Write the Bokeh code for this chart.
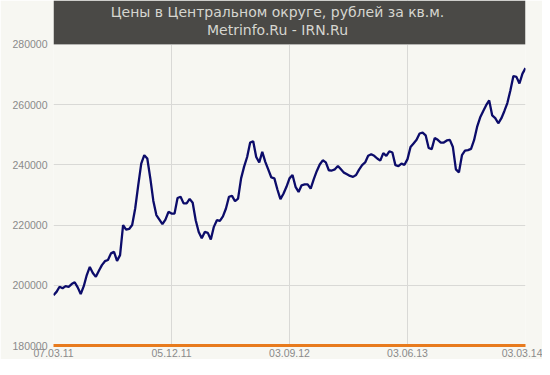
import pandas as pd
from bokeh.plotting import figure
from bokeh.models import (Range1d, FixedTicker, DatetimeTickFormatter, BoxAnnotation,
                          Label, NumeralTickFormatter)
from bokeh.embed import file_html
from bokeh.resources import INLINE

# ---------------- data ----------------
title_lines = ["Цены в Центральном округе, рублей за кв.м.", "Metrinfo.Ru - IRN.Ru"]
start_date = "2011-03-07"          # weekly observations
prices = [
    196700, 197800, 199500, 199000, 199700, 199500, 200400, 201000, 199300, 197100,
    199700, 203400, 206100, 204100, 202800, 204800, 206700, 208000, 208400, 210600,
    211100, 208100, 210000, 220000, 218500, 218700, 220000, 225500, 233200, 240400,
    243200, 242100, 235500, 228000, 223300, 221800, 220300, 221800, 224400, 223800,
    223800, 229000, 229400, 227200, 227200, 228700, 227400, 221600, 217700, 215600,
    217700, 217400, 215200, 219400, 221600, 221400, 222900, 225500, 229400, 229700,
    227900, 228800, 235500, 239400, 242600, 247400, 247800, 242600, 240800, 244300,
    241000, 238400, 235800, 235500, 231800, 228600, 230400, 232700, 235500, 236600,
    232700, 231000, 233200, 233500, 233500, 232100, 235200, 237900, 240100, 241500,
    240800, 238200, 238100, 238500, 239600, 238500, 237400, 236900, 236300, 236000,
    236600, 238400, 239900, 240800, 243000, 243500, 243000, 242100, 241400, 243900,
    243000, 244500, 244100, 239900, 239600, 240400, 240000, 241900, 245900, 247100,
    248300, 250400, 250700, 249800, 245600, 245200, 248900, 248300, 247400, 247400,
    248100, 248300, 245900, 238500, 237500, 243200, 244700, 244900, 245300, 248200,
    252600, 255700, 257800, 259800, 261400, 256400, 255500, 253800, 255400, 257800,
    260500, 264700, 269500, 269200, 267000, 270300, 272100,
]
y_ticks = [180000, 200000, 220000, 240000, 260000, 280000]
x_tick_dates = ["2011-03-07", "2011-12-05", "2012-09-03", "2013-06-03", "2014-03-03"]

dates = pd.date_range(start_date, periods=len(prices), freq="7D")
x_ticks_ms = [int(pd.Timestamp(d).value // 10**6) for d in x_tick_dates]

# ---------------- style ----------------
BG = "#f7f7f2"
BOX = "#4a4946"
NAVY = "#0c0c6a"
ORANGE = "#e87b1e"
GRID = "#d9d9d6"
LABEL = "#8a8a8a"

W, H = 542, 359
left, right, top, bottom = 53, 17, 0, 13
frame_w = W - left - right
frame_h = H - top - bottom
y0, ytop = y_ticks[0], y_ticks[-1]
box_px = 44                                   # height of dark title band
y_end = (ytop - y0 * box_px / frame_h) / (1 - box_px / frame_h)
per_px = (y_end - y0) / frame_h
x_per_px = (x_ticks_ms[-1] - x_ticks_ms[0]) / frame_w

p = figure(width=W, height=H, x_axis_type="datetime", output_backend="svg",
           toolbar_location=None,
           x_range=Range1d(dates[0], dates[-1]), y_range=Range1d(y0, y_end),
           min_border_left=left, min_border_right=right,
           min_border_top=top, min_border_bottom=bottom,
           background_fill_color=BG, border_fill_color=BG, outline_line_color=None)

p.line(dates, prices, line_color=NAVY, line_width=2.3)

# axes
p.xaxis.ticker = FixedTicker(ticks=x_ticks_ms)
fmt = "%d.%m.%y"
p.xaxis.formatter = DatetimeTickFormatter(milliseconds=fmt, seconds=fmt, minsec=fmt, minutes=fmt,
                                          hourmin=fmt, hours=fmt, days=fmt, months=fmt, years=fmt)
p.yaxis.ticker = FixedTicker(ticks=y_ticks)
p.yaxis.formatter = NumeralTickFormatter(format="0")

for ax in (p.xaxis[0], p.yaxis[0]):
    ax.major_tick_line_color = None
    ax.minor_tick_line_color = None
    ax.major_tick_out = 0
    ax.major_tick_in = 0
    ax.major_label_text_font = "Liberation Sans"
    ax.major_label_text_font_size = "10.5px"
    ax.major_label_text_color = LABEL
p.xaxis.axis_line_color = ORANGE
p.xaxis.axis_line_width = 3
p.xaxis.major_label_standoff = 3
p.yaxis.axis_line_color = None
p.yaxis.major_label_standoff = 6

p.xgrid.grid_line_color = GRID
p.ygrid.grid_line_color = GRID
p.ygrid.ticker = FixedTicker(ticks=y_ticks)

# title band (text centred on the whole chart, not the frame)
p.add_layout(BoxAnnotation(bottom=ytop, fill_color=BOX, fill_alpha=1.0, line_color=None))
title_cx_px = 224                              # centre relative to frame left
for txt, base_px in zip(title_lines, (12, 30)):
    p.add_layout(Label(x=x_ticks_ms[0] + title_cx_px * x_per_px, y=y_end - base_px * per_px,
                       text=txt, text_align="center", text_baseline="alphabetic",
                       text_font="DejaVu Sans", text_font_size="14px",
                       text_color="#d6d6d0"))

open("out.html", "w").write(file_html(p, INLINE))
